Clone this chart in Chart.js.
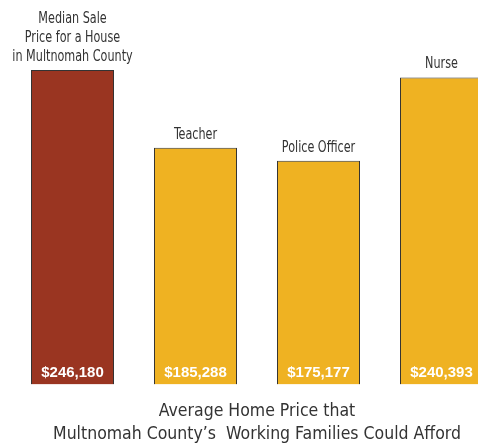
<!DOCTYPE html>
<html>
<head>
<meta charset="utf-8">
<script src="https://cdn.jsdelivr.net/npm/chart.js@4/dist/chart.umd.min.js"></script>
<style>
  html, body { margin: 0; padding: 0; background: #fff; overflow: hidden; }
  #wrap { width: 504px; height: 443px; }
</style>
</head>
<body>
<div id="wrap"><canvas id="home-chart" width="504" height="443"></canvas></div>
<script>
// Home prices vs. what working families could afford
const categories = [
    ['Median Sale', 'Price for a House', 'in Multnomah County'],
    ['Teacher'],
    ['Police Officer'],
    ['Nurse']
];
const prices = [246180, 185288, 175177, 240393];
const barColors = ['#9a3521', '#efb222', '#efb222', '#efb222'];
const axisTitle = ['Average Home Price that', 'Multnomah County\u2019s  Working Families Could Afford'];

const narrowFont = '"Liberation Sans Narrow", "DejaVu Sans Condensed", sans-serif';

// labels above the bars and dollar values inside them
const barLabels = {
    id: 'barLabels',
    afterDatasetsDraw(chart) {
        const ctx = chart.ctx;
        const meta = chart.getDatasetMeta(0);
        meta.data.forEach(function(bar, i) {
            ctx.save();
            ctx.textAlign = 'center';
            ctx.textBaseline = 'middle';
            ctx.fillStyle = '#333333';
            ctx.font = '15px ' + narrowFont;
            const lines = categories[i];
            lines.forEach(function(line, j) {
                const y = bar.y - 13 - (lines.length - 1 - j) * 19;
                // squeeze a little, the original type is condensed
                const w = ctx.measureText(line).width * 0.83;
                ctx.fillText(line, bar.x, y, w);
            });
            ctx.fillStyle = '#ffffff';
            ctx.font = 'bold 15px "Liberation Sans", Arial, sans-serif';
            ctx.fillText('$' + prices[i].toLocaleString('en-US'), bar.x, bar.base - 12);
            ctx.restore();
        });
    }
};

new Chart(document.getElementById('home-chart').getContext('2d'), {
    type: 'bar',
    data: {
        labels: categories.map(function(c) { return c.join(' '); }),
        datasets: [{
            data: prices,
            backgroundColor: barColors,
            borderColor: '#333333',
            borderWidth: 1,
            barPercentage: 0.675,
            categoryPercentage: 1
        }]
    },
    options: {
        responsive: false,
        animation: false,
        layout: { padding: { left: 11, right: 1, top: 0, bottom: 0 } },
        plugins: {
            legend: { display: false },
            tooltip: { enabled: false }
        },
        scales: {
            x: {
                grid: { display: false },
                border: { display: false },
                ticks: { display: false },
                title: {
                    display: true,
                    text: axisTitle,
                    color: '#333333',
                    font: { family: narrowFont, size: 17.5, lineHeight: 1.3 },
                    padding: { top: 8, bottom: -3 }
                }
            },
            y: {
                display: false,
                min: 0,
                max: 301000
            }
        }
    },
    plugins: [barLabels]
});
</script>
</body>
</html>
